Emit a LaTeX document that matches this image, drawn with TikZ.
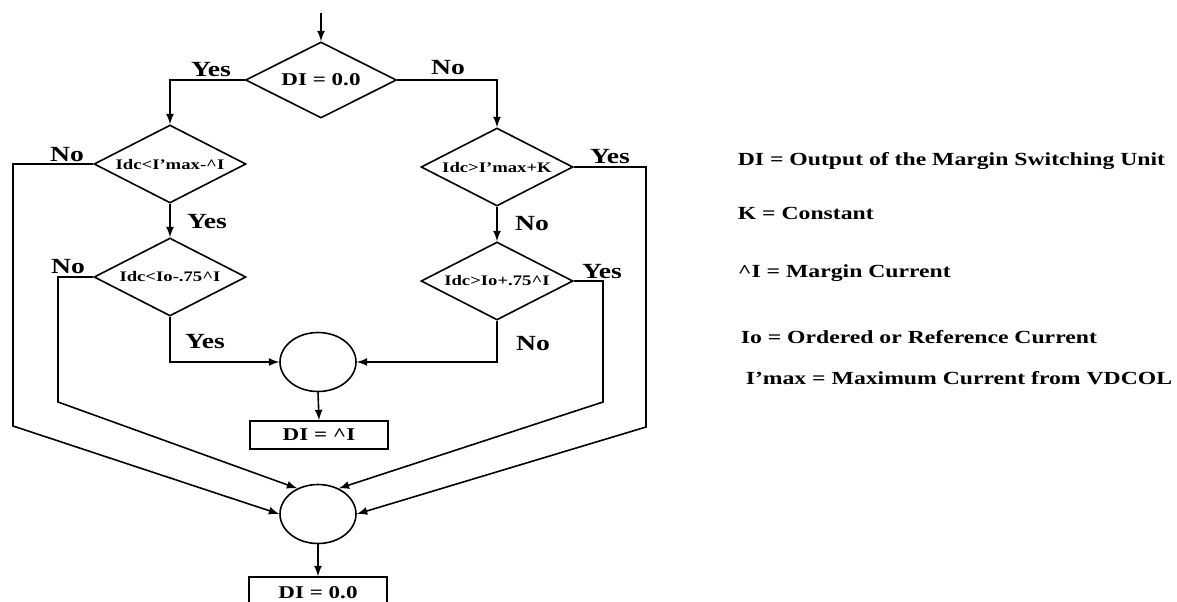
\documentclass[tikz,border=0pt]{standalone}
\usepackage{fontspec}
\setmainfont[FakeStretch=1.28]{Liberation Serif}
\usetikzlibrary{shapes,arrows}

\begin{document}
\begin{tikzpicture}[x=0.5pt, y=-0.5pt,
			>=latex,   %Pfeilspitzen
			line width=0.8pt,
			dec/.style={draw, diamond, aspect=2.2, inner sep=0pt, minimum width=76pt, minimum height=39pt, font=\fontsize{7.3}{8}\selectfont\bfseries},
			junc/.style={draw, ellipse, inner sep=0pt, minimum width=38pt, minimum height=29.5pt},
			outbox/.style={draw, rectangle, inner sep=0pt, minimum width=69pt, minimum height=14pt, font=\fontsize{9}{10}\selectfont\bfseries},
			lab/.style={font=\fontsize{10.8}{12}\selectfont\bfseries},
			legend/.style={anchor=west, inner sep=0pt, font=\fontsize{9.25}{11}\selectfont\bfseries}]
			%Bildbereich
			\useasboundingbox (0,0) rectangle (1177,601);
			%Entscheidungen
			\coordinate (start) at (321,13);
			\node[dec, minimum width=75.5pt, minimum height=38pt, font=\fontsize{9}{10}\selectfont\bfseries] (d1) at (321,80) {DI = 0.0};
			\node[dec] (d2) at (170,164) {Idc<I’max-\textasciicircum I};
			\node[dec] (d3) at (497,167) {Idc>I’max+K};
			\node[dec] (d4) at (170,277) {Idc<Io-.75\textasciicircum I};
			\node[dec] (d5) at (497,281) {Idc>Io+.75\textasciicircum I};
			%Zusammenfuehrung
			\node[junc] (e1) at (318,362) {};
			\node[outbox] (b1) at (319,435) {DI = \textasciicircum I};
			\node[junc] (e2) at (318,514) {};
			\node[outbox, minimum height=16pt] (b2) at (318,593) {DI = 0.0};
			%Hilfspunkte
			\coordinate (l1) at (13,426);
			\coordinate (l2) at (58,402);
			\coordinate (r1) at (646,427);
			\coordinate (r2) at (603,402);
			%Verbindungen
			\draw[->] (start) -- (d1.north);
			\draw[->] (d1.west) -| (d2.north);
			\draw[->] (d1.east) -| (d3.north);
			\draw[->] (d2.south) -- (d4.north);
			\draw[->] (d3.south) -- (d5.north);
			\draw[->] (d2.west) -| (l1) -- (e2.west);
			\draw[->] (d4.west) -| (l2) -- (e2.129);
			\draw[->] (d3.east) -| (r1) -- (e2.east);
			\draw[->] (d5.east) -| (r2) -- (e2.51);
			\draw[->] (d4.south) |- (e1.west);
			\draw[->] (d5.south) |- (e1.east);
			\draw[->] (e1.south) -- (b1.north);
			\draw[->] (e2.south) -- (b2.north);
			%Beschriftung
			\node[lab] (y1) at (211,70) {Yes};
			\node[lab] (n1) at (448,68) {No};
			\node[lab] (n2) at (67,155) {No};
			\node[lab] (y2) at (610,157) {Yes};
			\node[lab] (y3) at (207,222) {Yes};
			\node[lab] (n3) at (532,224) {No};
			\node[lab] (n4) at (68,267) {No};
			\node[lab] (y4) at (602,272) {Yes};
			\node[lab] (y5) at (205,342) {Yes};
			\node[lab] (n5) at (533,344) {No};
			%Legende
			\node[legend] (g1) at (737,161) {DI = Output of the Margin Switching Unit};
			\node[legend] (g2) at (737,213) {K = Constant};
			\node[legend] (g3) at (737,273) {\textasciicircum I = Margin Current};
			\node[legend] (g4) at (740,337) {Io = Ordered or Reference Current};
			\node[legend] (g5) at (745,378) {I’max = Maximum Current from VDCOL};
		\end{tikzpicture}
\end{document}
